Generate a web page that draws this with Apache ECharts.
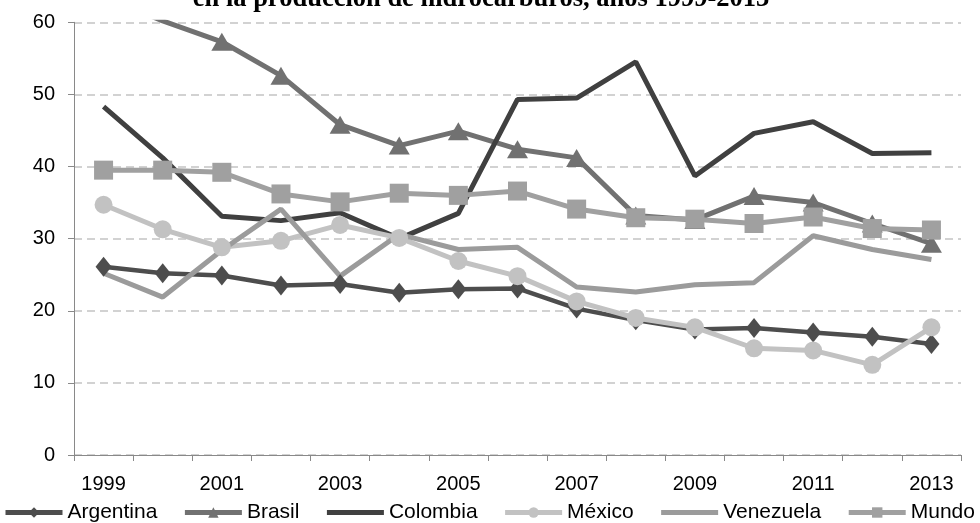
<!DOCTYPE html>
<html>
<head>
<meta charset="utf-8">
<title>Producción de hidrocarburos 1999-2013</title>
<script src="https://cdn.jsdelivr.net/npm/echarts@6/dist/echarts.min.js"></script>
<style>
  html, body { margin: 0; padding: 0; background: #ffffff; }
  #chart { width: 980px; height: 523px; }
</style>
</head>
<body>
<div id="chart"></div>
<script>
// Years on the category axis
const years = ['1999', '2000', '2001', '2002', '2003', '2004', '2005', '2006',
               '2007', '2008', '2009', '2010', '2011', '2012', '2013'];

// Series values (%)
const argentina = [26.1, 25.2, 24.9, 23.5, 23.7, 22.5, 23.0, 23.1, 20.3, 18.7, 17.4, 17.6, 17.0, 16.4, 15.4];
const brasil    = [63.5, 60.2, 57.3, 52.6, 45.8, 42.9, 44.9, 42.4, 41.2, 33.2, 32.6, 35.9, 35.0, 32.1, 29.3];
const colombia  = [48.3, 41.2, 33.1, 32.5, 33.6, 30.0, 33.5, 49.3, 49.5, 54.5, 38.7, 44.6, 46.2, 41.8, 41.9];
const mexico    = [34.7, 31.3, 28.8, 29.7, 31.9, 30.1, 26.9, 24.8, 21.3, 19.0, 17.7, 14.8, 14.5, 12.5, 17.7];
const venezuela = [25.2, 21.9, 28.4, 34.1, 24.8, 30.6, 28.5, 28.8, 23.3, 22.6, 23.6, 23.9, 30.4, 28.5, 27.1];
const mundo     = [39.5, 39.5, 39.2, 36.2, 35.1, 36.3, 36.0, 36.6, 34.1, 32.9, 32.7, 32.1, 33.0, 31.4, 31.2];

// Value-axis range
const yMin = 0;
const yMax = 60;
const yStep = 10;

const FONT = '"Liberation Sans", Arial, sans-serif';
const AXIS_GRAY = '#898989';

function lineSeries(name, data, color, symbol, symbolSize, width) {
  return {
    name: name,
    type: 'line',
    data: data,
    symbol: symbol,
    symbolSize: symbolSize,
    showSymbol: symbol !== 'none',
    clip: true,
    lineStyle: { color: color, width: width },
    itemStyle: { color: color },
    emphasis: { disabled: true }
  };
}

const chart = echarts.init(document.getElementById('chart'), null, { renderer: 'canvas' });

chart.setOption({
  animation: false,
  backgroundColor: '#ffffff',
  title: {
    text: 'en la producción de hidrocarburos, años 1999-2013',
    left: 476,
    textAlign: 'center',
    top: -19,
    textStyle: {
      fontFamily: '"Liberation Serif", "Times New Roman", serif',
      fontWeight: 'bold',
      fontSize: 26.5,
      color: '#000000'
    }
  },
  grid: { left: 74, right: 19, top: 22.3, bottom: 68, containLabel: false },
  legend: {
    top: 502,
    left: 3,
    width: 977,
    padding: 0,
    itemWidth: 57,
    itemHeight: 13,
    itemGap: 25,
    lineStyle: { width: 5 },
    textStyle: { fontFamily: FONT, fontSize: 21, color: '#000000' },
    data: [
      'Argentina',
      'Brasil',
      { name: 'Colombia', itemStyle: { opacity: 0 } },
      'México',
      { name: 'Venezuela', itemStyle: { opacity: 0 } },
      'Mundo'
    ]
  },
  xAxis: {
    type: 'category',
    data: years,
    boundaryGap: true,
    axisLine: { show: true, lineStyle: { color: AXIS_GRAY, width: 1 } },
    axisTick: { show: true, interval: 0, alignWithLabel: false, length: 6, lineStyle: { color: AXIS_GRAY } },
    axisLabel: { interval: 1, margin: 19, fontFamily: FONT, fontSize: 20, color: '#000000' },
    splitLine: { show: false }
  },
  yAxis: {
    type: 'value',
    min: yMin,
    max: yMax,
    interval: yStep,
    axisLine: { show: true, lineStyle: { color: AXIS_GRAY, width: 1 } },
    axisTick: { show: true, length: 6, lineStyle: { color: AXIS_GRAY } },
    axisLabel: { margin: 19, fontFamily: FONT, fontSize: 20, color: '#000000' },
    splitLine: { show: true, lineStyle: { color: '#c3c3c3', width: 1.5, type: [8, 5] } }
  },
  series: [
    lineSeries('Argentina', argentina, '#4d4d4d', 'diamond', [16, 20], 4.5),
    lineSeries('Brasil', brasil, '#717171', 'triangle', [21, 18], 5),
    lineSeries('Colombia', colombia, '#404040', 'none', 0, 5),
    lineSeries('México', mexico, '#c2c2c2', 'circle', 18, 5),
    lineSeries('Venezuela', venezuela, '#9b9b9b', 'none', 0, 5),
    lineSeries('Mundo', mundo, '#a0a0a0', 'rect', 19, 5)
  ]
});
</script>
</body>
</html>
